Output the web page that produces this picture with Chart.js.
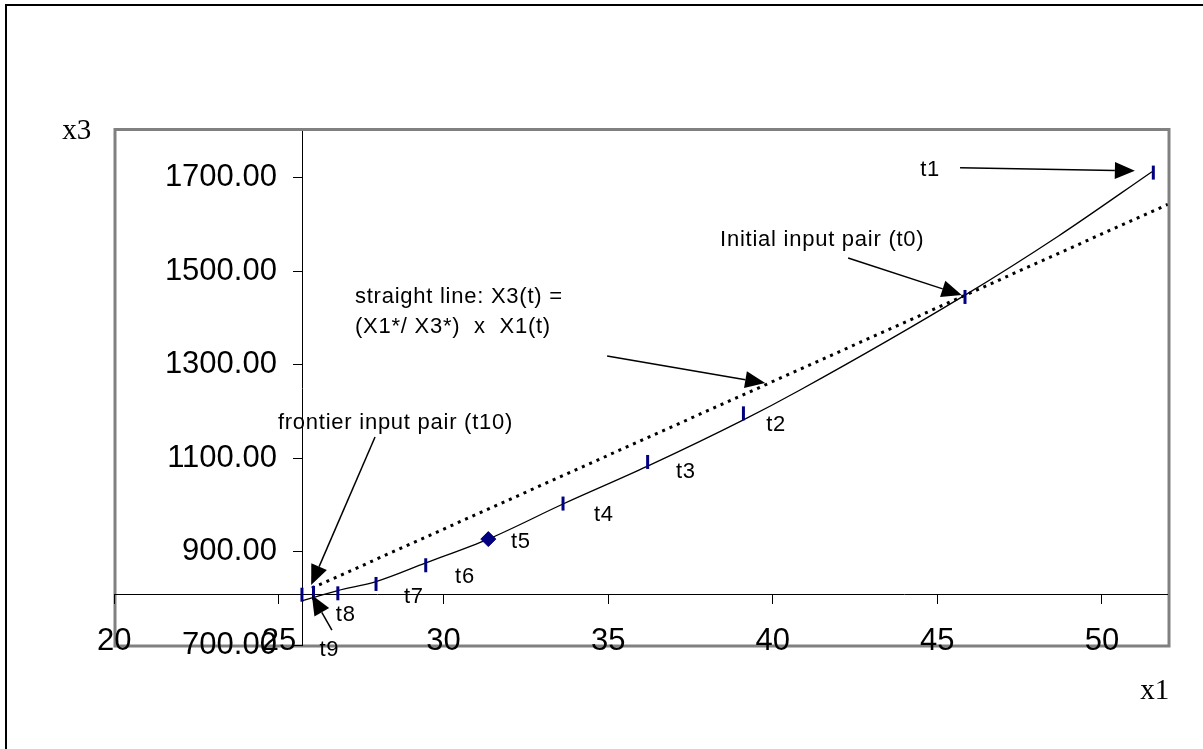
<!DOCTYPE html>
<html><head><meta charset="utf-8">
<script src="https://cdn.jsdelivr.net/npm/chart.js@4/dist/chart.umd.min.js"></script>
<style>html,body{margin:0;padding:0;background:#fff;overflow:hidden}canvas{display:block}</style>
</head><body>
<canvas id="c" width="1203" height="749"></canvas>
<script>
// ---- data ----
const xTicks = [20, 25, 30, 35, 40, 45, 50];
const yTicks = [700, 900, 1100, 1300, 1500, 1700];
const markerLabels = ['t0', 't1', 't2', 't3', 't4', 't5', 't6', 't7', 't8', 't9', 't10'];
const markerX1 = [45.84, 51.56, 39.11, 36.20, 33.63, 31.36, 29.46, 27.95, 26.79, 26.05, 25.70];
const markerX3 = [1445, 1711, 1196, 1092, 1003, 927, 871, 831, 811, 812, 808];
const curveX1 = [25.70, 26.79, 27.95, 29.46, 31.36, 33.63, 36.20, 39.11, 40.83, 45.84, 48.67, 51.52];
const curveX3 = [795, 817, 836, 876, 927, 1002, 1083, 1182, 1246, 1449, 1575, 1713];
const rayX1 = [26.0, 52.0];
const rayX3 = [822, 1643];
const axisCross = {x1: 25.72, x3: 809};
const yLabelAnchorX1 = 24.94;   // where the right edge of the y tick labels sits

// ---- annotations (data coordinates) ----
const notes = [
  {lines: ['t1'], x1: 44.48, x3: 1716.5},
  {lines: ['Initial input pair (t0)'], x1: 38.40, x3: 1566.7},
  {lines: ['straight line: X3(t) =', '(X1*/ X3*)  x  X1(t)'], x1: 27.31, x3: 1444.8},
  {lines: ['frontier input pair (t10)'], x1: 24.97, x3: 1175.3},
  {lines: ['t2'], x1: 39.80, x3: 1171},
  {lines: ['t3'], x1: 37.06, x3: 1071},
  {lines: ['t4'], x1: 34.57, x3: 978.5},
  {lines: ['t5'], x1: 32.05, x3: 921.4},
  {lines: ['t6'], x1: 30.35, x3: 845.2},
  {lines: ['t7'], x1: 28.80, x3: 802.5},
  {lines: ['t8'], x1: 26.73, x3: 764.6},
  {lines: ['t9'], x1: 26.23, x3: 689.7}
];
const arrows = [
  {from: [45.69, 1721.4], to: [51.00, 1715]},
  {from: [42.29, 1528.2], to: [45.74, 1449.1]},
  {from: [34.97, 1318.6], to: [39.77, 1260.9]},
  {from: [27.92, 1145.4], to: [25.98, 828.8]},
  {from: [26.61, 732.5], to: [26.00, 807.4]}
];

const NAVY = '#000080';
const TICK_FONT = {family: '"Liberation Sans", Arial, sans-serif', size: 31};
const NOTE_FONT = '22px "Liberation Sans", Arial, sans-serif';
const TITLE_FONT = '29px "Liberation Serif", "Times New Roman", serif';

const pts = (xs, ys) => xs.map((v, i) => ({x: v, y: ys[i]}));

const framePlugin = {
  id: 'frame',
  beforeDraw(chart) {
    const {ctx, chartArea: a} = chart;
    ctx.save();
    ctx.fillStyle = '#fff';
    ctx.fillRect(0, 0, chart.width, chart.height);
    ctx.strokeStyle = '#000';
    ctx.lineWidth = 2;
    ctx.beginPath();
    ctx.moveTo(6, chart.height);
    ctx.lineTo(6, 5);
    ctx.lineTo(chart.width, 5);
    ctx.stroke();
    ctx.strokeStyle = '#808080';
    ctx.lineWidth = 3;
    const x0 = a.left + 0.7, y0 = a.top - 1.5, x1 = a.right + 1.2, y1 = a.bottom + 0.8;
    ctx.strokeRect(x0, y0, x1 - x0, y1 - y0);
    ctx.restore();
  }
};

const notesPlugin = {
  id: 'notes',
  afterDatasetsDraw(chart) {
    const {ctx, chartArea: a, scales: {x, y}} = chart;
    ctx.save();
    ctx.strokeStyle = '#000';
    ctx.fillStyle = '#000';
    ctx.lineWidth = 1.5;
    arrows.forEach(ar => {
      const fx = x.getPixelForValue(ar.from[0]), fy = y.getPixelForValue(ar.from[1]);
      const tx = x.getPixelForValue(ar.to[0]), ty = y.getPixelForValue(ar.to[1]);
      const ang = Math.atan2(ty - fy, tx - fx);
      const L = 20, W = 8.5;
      const bx = tx - L * Math.cos(ang), by = ty - L * Math.sin(ang);
      ctx.beginPath();
      ctx.moveTo(fx, fy);
      ctx.lineTo(bx, by);
      ctx.stroke();
      ctx.beginPath();
      ctx.moveTo(tx, ty);
      ctx.lineTo(bx + W * Math.sin(ang), by - W * Math.cos(ang));
      ctx.lineTo(bx - W * Math.sin(ang), by + W * Math.cos(ang));
      ctx.closePath();
      ctx.fill();
    });
    ctx.font = NOTE_FONT;
    if ('letterSpacing' in ctx) ctx.letterSpacing = '0.75px';
    ctx.textAlign = 'left';
    ctx.textBaseline = 'middle';
    notes.forEach(n => {
      const px = x.getPixelForValue(n.x1), py = y.getPixelForValue(n.x3);
      n.lines.forEach((t, i) => ctx.fillText(t, px, py + i * 30));
    });
    if ('letterSpacing' in ctx) ctx.letterSpacing = '0px';
    ctx.font = TITLE_FONT;
    ctx.textBaseline = 'alphabetic';
    ctx.textAlign = 'left';
    ctx.fillText('x3', a.left - 52, a.top + 8);
    ctx.textAlign = 'right';
    ctx.fillText('x1', a.right + 1.5, a.bottom + 54);
    ctx.restore();
  }
};

new Chart(document.getElementById('c'), {
  data: {
    datasets: [
      {
        type: 'scatter',
        label: 'input pairs',
        data: pts(markerX1, markerX3),
        showLine: false,
        pointStyle: markerLabels.map(l => l === 't5' ? 'rectRot' : 'line'),
        rotation: markerLabels.map(l => l === 't5' ? 0 : 90),
        pointRadius: markerLabels.map(l => l === 't5' ? 7.5 : 7),
        pointBorderWidth: markerLabels.map(l => l === 't5' ? 1 : 3),
        pointBorderColor: NAVY,
        pointBackgroundColor: NAVY,
        clip: false
      },
      {
        type: 'line',
        label: 'frontier',
        data: pts(curveX1, curveX3),
        borderColor: '#000',
        borderWidth: 1.3,
        pointRadius: 0,
        fill: false,
        cubicInterpolationMode: 'monotone'
      },
      {
        type: 'line',
        label: 'straight line',
        data: pts(rayX1, rayX3),
        borderColor: '#000',
        borderWidth: 3,
        borderDash: [3, 5],
        borderCapStyle: 'butt',
        pointRadius: 0,
        fill: false
      }
    ]
  },
  options: {
    responsive: false,
    animation: false,
    devicePixelRatio: 1,
    layout: {padding: {left: 114.3, top: 131, right: 35.2, bottom: 103.8}},
    plugins: {legend: {display: false}, tooltip: {enabled: false}},
    scales: {
      x: {
        type: 'linear', position: 'bottom', min: 20, max: 52, display: false
      },
      x2: {
        type: 'linear', axis: 'x', position: {y: axisCross.x3}, min: 20, max: 52,
        afterBuildTicks: s => { s.ticks = xTicks.map(v => ({value: v})); },
        grid: {drawOnChartArea: false, drawTicks: true, tickLength: 9, color: '#000', lineWidth: 1},
        border: {display: true, color: '#000', width: 1},
        ticks: {font: TICK_FONT, color: '#000', padding: 20, autoSkip: false, maxRotation: 0,
                callback: v => String(v)}
      },
      y: {
        type: 'linear', position: {x: axisCross.x1}, min: 700, max: 1800,
        afterBuildTicks: s => { s.ticks = yTicks.map(v => ({value: v})); },
        grid: {drawOnChartArea: false, drawTicks: true, tickLength: 9, color: '#000', lineWidth: 1},
        border: {display: true, color: '#000', width: 1},
        ticks: {display: false}
      },
      yl: {
        type: 'linear', axis: 'y', position: {x: yLabelAnchorX1}, min: 700, max: 1800,
        afterBuildTicks: s => { s.ticks = yTicks.map(v => ({value: v})); },
        grid: {display: false},
        border: {display: false},
        ticks: {font: TICK_FONT, color: '#000', autoSkip: false,
                callback: v => Number(v).toFixed(2)}
      }
    }
  },
  plugins: [framePlugin, notesPlugin]
});
</script>
</body></html>
